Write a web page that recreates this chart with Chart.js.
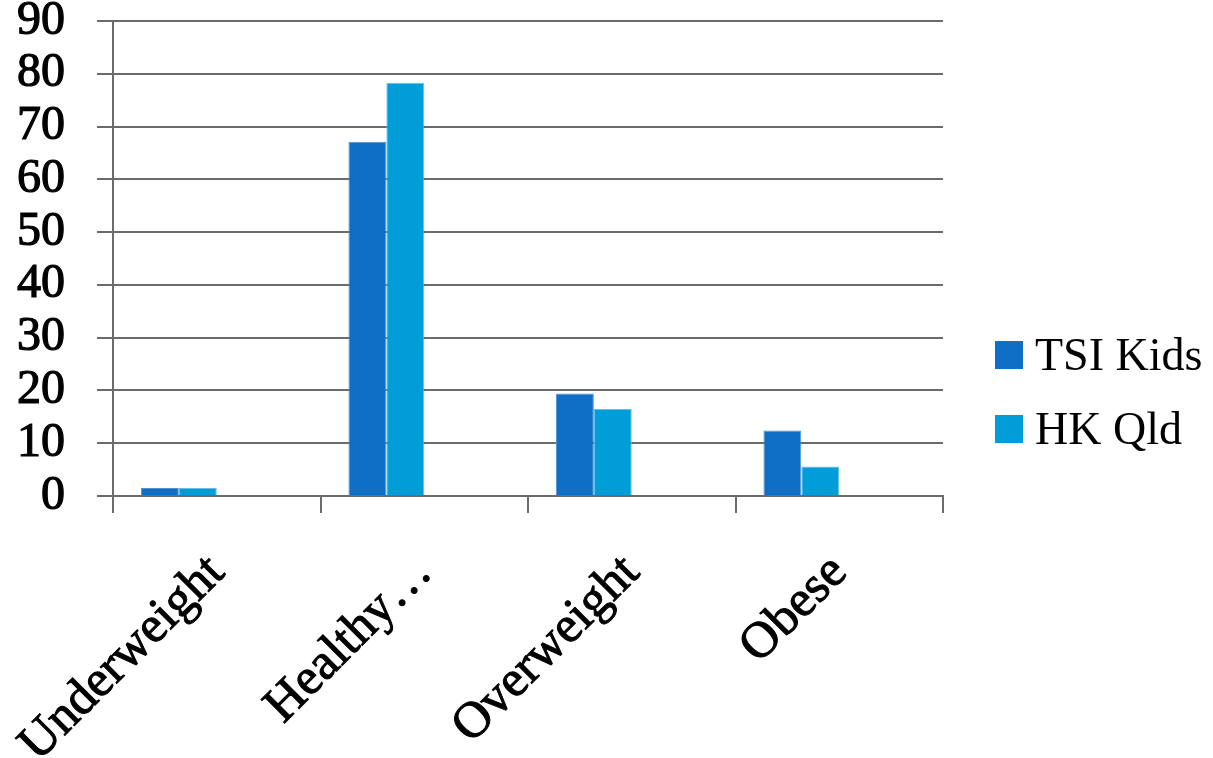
<!DOCTYPE html>
<html>
<head>
<meta charset="utf-8">
<script src="https://cdn.jsdelivr.net/npm/chart.js@4/dist/chart.umd.min.js"></script>
<style>
  html, body { margin: 0; padding: 0; background: #ffffff; }
  #wrap { width: 1213px; height: 758px; }
</style>
</head>
<body>
<div id="wrap"><canvas id="chart" width="1213" height="758"></canvas></div>
<script>
// Weight categories and the share (%) of children in each
const categories = ['Underweight', 'Healthy…', 'Overweight', 'Obese'];
const tsiKids = [1.5, 67.1, 19.4, 12.4];
const hkQld = [1.5, 78.3, 16.5, 5.6];
const yTicks = [0, 10, 20, 30, 40, 50, 60, 70, 80, 90];

const seriesNames = ['TSI Kids', 'HK Qld'];
const seriesColors = ['#0F6FC6', '#009DD9'];
const seriesEdges = ['#4f93d6', '#5cc0e8'];

const FONT = '"Liberation Serif", "DejaVu Serif", serif';
const GRID = '#6b6b6b';

// The workbook's group holds four series slots; the last two are empty,
// so each pair of bars sits in the left half of its category.
const emptySlots = [[], []];

// Legend drawn beside the plot: square swatch followed by the series name
const sideLegend = {
  id: 'sideLegend',
  afterDraw(chart, args, opts) {
    const ctx = chart.ctx;
    const area = chart.chartArea;
    ctx.save();
    ctx.font = `${opts.fontSize}px ${FONT}`;
    ctx.textBaseline = 'alphabetic';
    ctx.textAlign = 'left';
    seriesNames.forEach((name, i) => {
      const top = area.bottom + opts.offsetY + i * opts.spacing;
      const left = area.right + opts.offsetX;
      ctx.fillStyle = seriesColors[i];
      ctx.fillRect(left, top, opts.box, opts.box);
      ctx.fillStyle = '#000000';
      ctx.fillText(name, left + opts.box + opts.gap, top + opts.box + 1);
    });
    ctx.restore();
  }
};

const datasets = seriesNames.map((name, i) => ({
  label: name,
  data: i === 0 ? tsiKids : hkQld,
  backgroundColor: seriesColors[i],
  borderColor: seriesEdges[i],
  borderWidth: 1,
  borderSkipped: 'bottom',
  barPercentage: 1,
  categoryPercentage: 152 / 208
})).concat(emptySlots.map(d => ({
  label: '',
  data: d,
  barPercentage: 1,
  categoryPercentage: 152 / 208
})));

new Chart(document.getElementById('chart'), {
  type: 'bar',
  data: { labels: categories, datasets },
  plugins: [sideLegend],
  options: {
    responsive: false,
    animation: false,
    layout: { padding: { top: 21, right: 270, bottom: 0, left: 0 } },
    plugins: {
      legend: { display: false },
      tooltip: { enabled: false },
      sideLegend: { fontSize: 46, box: 28, gap: 12, offsetX: 52, offsetY: -155, spacing: 74 }
    },
    scales: {
      x: {
        afterFit(scale) {
          scale.height = 262;
          scale.paddingTop = 0;
          scale.paddingLeft = 0;
          scale.paddingRight = 0;
        },
        grid: {
          offset: true,
          drawOnChartArea: false,
          drawTicks: true,
          tickLength: 17,
          color: GRID,
          lineWidth: 2
        },
        border: { display: true, color: GRID, width: 2 },
        ticks: {
          color: '#000000',
          textStrokeColor: '#000000',
          textStrokeWidth: 1,
          font: { family: FONT, size: 51 },
          maxRotation: 45,
          minRotation: 45,
          padding: 30,
          autoSkip: false
        }
      },
      y: {
        min: 0,
        max: 90,
        afterFit(scale) { scale.width = 113; scale.paddingTop = 0; },
        afterBuildTicks(scale) { scale.ticks = yTicks.map(v => ({ value: v })); },
        grid: {
          color: GRID,
          lineWidth: 2,
          drawTicks: true,
          tickLength: 16
        },
        border: { display: true, color: GRID, width: 2 },
        ticks: {
          color: '#000000',
          textStrokeColor: '#000000',
          textStrokeWidth: 1.2,
          font: { family: FONT, size: 48, lineHeight: 1 },
          padding: 32,
          stepSize: 10
        }
      }
    }
  }
});
</script>
</body>
</html>
